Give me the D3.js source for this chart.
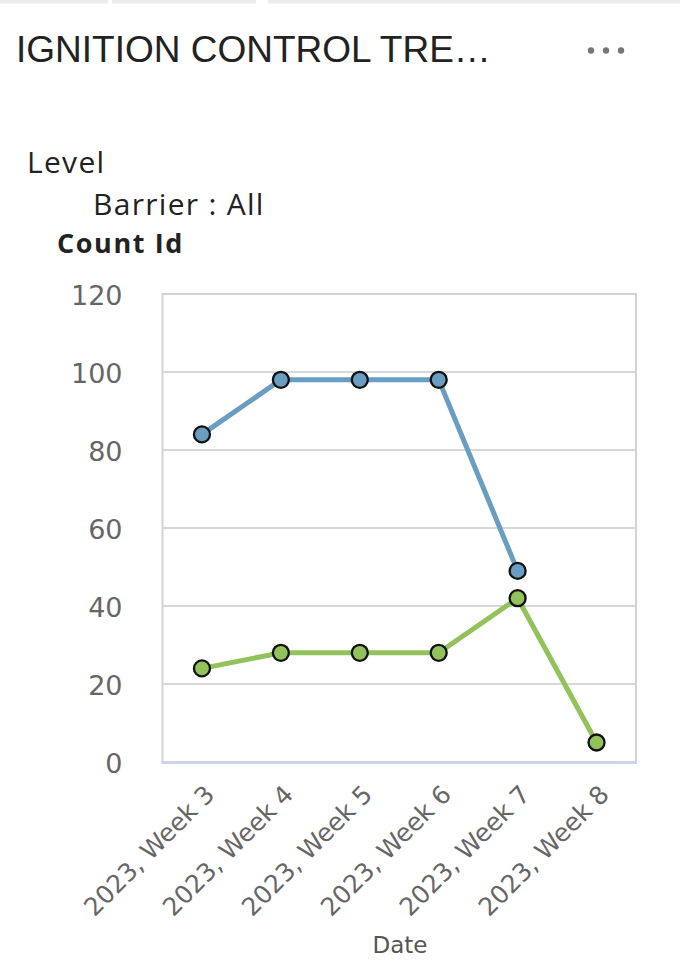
<!DOCTYPE html>
<html>
<head>
<meta charset="utf-8">
<script src="https://cdn.jsdelivr.net/npm/d3@7"></script>
<style>
  body { margin: 0; background: #fff; }
  svg { display: block; }
</style>
</head>
<body>
<div id="viz"></div>
<script>
// chart values
const weeks = ["2023, Week 3", "2023, Week 4", "2023, Week 5", "2023, Week 6", "2023, Week 7", "2023, Week 8"];
const blueCounts = [84, 98, 98, 98, 49, null];
const greenCounts = [24, 28, 28, 28, 42, 5];
const yTicks = [0, 20, 40, 60, 80, 100, 120];

const width = 680, height = 973;
const plot = {left: 162.5, right: 636, top: 294, bottom: 762};

const svg = d3.select("#viz").append("svg")
    .attr("width", width)
    .attr("height", height);

// top tab strip
const tabs = [[0, 108], [112, 256], [268, 680]];
svg.selectAll("rect.tab").data(tabs).join("rect")
    .attr("class", "tab")
    .attr("x", d => d[0]).attr("y", 0)
    .attr("width", d => d[1] - d[0]).attr("height", 3.5)
    .attr("fill", "#ececec");

svg.append("text")
    .attr("x", 16).attr("y", 62)
    .attr("font-family", "Liberation Sans, Arial, sans-serif")
    .attr("font-size", 37)
    .attr("fill", "#222")
    .text("IGNITION CONTROL TRE\u2026");

svg.selectAll("circle.menu").data([591, 606, 621]).join("circle")
    .attr("class", "menu")
    .attr("cx", d => d).attr("cy", 50.5).attr("r", 3.2)
    .attr("fill", "#777");

svg.append("text")
    .attr("x", 27).attr("y", 173)
    .attr("font-family", "Open Sans, sans-serif")
    .attr("font-size", 30)
    .attr("letter-spacing", 1.3)
    .attr("fill", "#222")
    .text("Level");

svg.append("text")
    .attr("x", 93).attr("y", 215)
    .attr("font-family", "Open Sans, sans-serif")
    .attr("font-size", 30)
    .attr("letter-spacing", 1.3)
    .attr("fill", "#222")
    .text("Barrier : All");

svg.append("text")
    .attr("x", 57).attr("y", 253)
    .attr("font-family", "Open Sans, sans-serif")
    .attr("font-weight", "bold")
    .attr("font-size", 27)
    .attr("letter-spacing", 1.6)
    .attr("fill", "#222")
    .text("Count Id");

const x = d3.scalePoint().domain(weeks).range([plot.left, plot.right]).padding(0.5);
const y = d3.scaleLinear().domain([0, 120]).range([plot.bottom, plot.top]);

// gridlines
svg.selectAll("line.grid").data(yTicks.filter(t => t > 0 && t < 120)).join("line")
    .attr("class", "grid")
    .attr("x1", plot.left).attr("x2", plot.right)
    .attr("y1", d => y(d)).attr("y2", d => y(d))
    .attr("stroke", "#d8d8d8").attr("stroke-width", 2);

// frame
svg.append("path")
    .attr("d", `M${plot.left},${plot.bottom}V${plot.top}H${plot.right}V${plot.bottom}`)
    .attr("fill", "none").attr("stroke", "#d3d3d3").attr("stroke-width", 2);
svg.append("line")
    .attr("x1", plot.left - 1).attr("x2", plot.right + 1)
    .attr("y1", plot.bottom + 0.5).attr("y2", plot.bottom + 0.5)
    .attr("stroke", "#cdd5e6").attr("stroke-width", 3);

// y axis
const yAxis = svg.append("g")
    .attr("transform", `translate(${plot.left},0)`)
    .call(d3.axisLeft(y).tickValues(yTicks).tickSize(0).tickPadding(40));
yAxis.select(".domain").remove();
yAxis.selectAll("text")
    .attr("font-family", "DejaVu Sans, sans-serif")
    .attr("font-size", 27)
    .attr("fill", "#666")
    .attr("dy", "0.4em");

// x labels
svg.selectAll("text.xlab").data(weeks).join("text")
    .attr("class", "xlab")
    .attr("transform", d => `translate(${x(d) + 14},796) rotate(-45)`)
    .attr("text-anchor", "end")
    .attr("font-family", "DejaVu Sans, sans-serif")
    .attr("font-size", 25)
    .attr("fill", "#666")
    .text(d => d);

svg.append("text")
    .attr("x", 400).attr("y", 953)
    .attr("text-anchor", "middle")
    .attr("font-family", "DejaVu Sans, sans-serif")
    .attr("font-size", 23)
    .attr("fill", "#555")
    .text("Date");

// series
const series = [
    {values: blueCounts, color: "#6a9dc2"},
    {values: greenCounts, color: "#92c25a"}
];
const line = d3.line()
    .defined(d => d.v != null)
    .x(d => x(d.w))
    .y(d => y(d.v));

series.forEach(s => {
    const pts = weeks.map((w, i) => ({w: w, v: s.values[i]}));
    svg.append("path")
        .datum(pts)
        .attr("d", line)
        .attr("fill", "none")
        .attr("stroke", s.color)
        .attr("stroke-width", 5);
    svg.append("g").selectAll("circle").data(pts.filter(d => d.v != null)).join("circle")
        .attr("cx", d => x(d.w))
        .attr("cy", d => y(d.v))
        .attr("r", 8)
        .attr("fill", s.color)
        .attr("stroke", "#111")
        .attr("stroke-width", 2.3);
});
</script>
</body>
</html>
